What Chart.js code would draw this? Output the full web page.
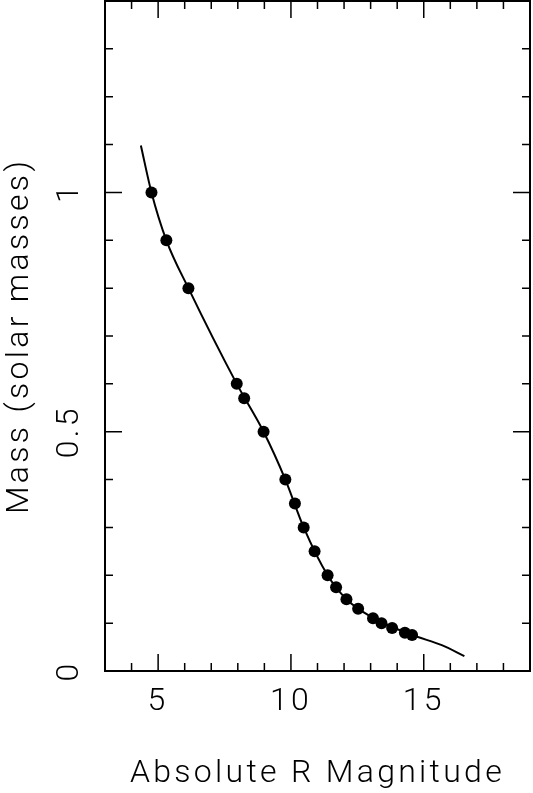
<!DOCTYPE html>
<html>
<head>
<meta charset="utf-8">
<script src="https://cdn.jsdelivr.net/npm/chart.js@4.4.1/dist/chart.umd.min.js"></script>
<style>
  html, body { margin: 0; padding: 0; background: #fff; }
  #chart { display: block; }
</style>
</head>
<body>
<canvas id="chart" width="533" height="793"></canvas>
<script>
// measured stars: absolute R magnitude and mass
const magR = [4.75, 5.31, 6.14, 7.96, 8.24, 8.97, 9.79, 10.15, 10.48, 10.89,
              11.38, 11.70, 12.09, 12.53, 13.09, 13.41, 13.81, 14.29, 14.56];
const mass = [1.0, 0.9, 0.8, 0.6, 0.57, 0.5, 0.4, 0.35, 0.3, 0.25,
              0.2, 0.175, 0.15, 0.13, 0.11, 0.10, 0.09, 0.08, 0.075];

// relation curve
const curveMag  = [4.35, 4.75, 5.31, 6.14, 7.96, 8.97, 9.79, 10.48, 11.38, 12.09, 13.09, 14.29, 14.75, 15.68, 16.53];
const curveMass = [1.098, 1.0, 0.9, 0.8, 0.6, 0.5, 0.4, 0.3, 0.2, 0.15, 0.111, 0.081, 0.0716, 0.054, 0.031];

// labelled (major) ticks
const xLabels = [5, 10, 15];
const yLabels = [0, 0.5, 1];

const FONT = 'Roboto';
const SPACING = '3.3px';
const near = (v, list) => list.find(l => Math.abs(l - v) < 1e-6);

// wider letter spacing, closer to the plotter font of the original
const spacing = {
  id: 'spacing',
  beforeLayout(chart) { chart.ctx.letterSpacing = SPACING; },
  beforeDraw(chart) { chart.ctx.letterSpacing = SPACING; }
};

// frame + inward ticks on all four sides
const frameTicks = {
  id: 'frameTicks',
  afterDatasetsDraw(chart) {
    const {ctx, chartArea: a, scales: {x, y}} = chart;
    ctx.save();
    ctx.strokeStyle = '#000';
    ctx.lineWidth = 1.5;
    ctx.beginPath();
    x.ticks.forEach(t => {
      const px = x.getPixelForValue(t.value);
      if (px <= a.left + 1 || px >= a.right - 1) return;
      const len = near(t.value, xLabels) !== undefined ? 17 : 8;
      ctx.moveTo(px, a.bottom); ctx.lineTo(px, a.bottom - len);
      ctx.moveTo(px, a.top); ctx.lineTo(px, a.top + len);
    });
    y.ticks.forEach(t => {
      const py = y.getPixelForValue(t.value);
      if (py <= a.top + 1 || py >= a.bottom - 1) return;
      const len = near(t.value, yLabels) !== undefined ? 17 : 8;
      ctx.moveTo(a.left, py); ctx.lineTo(a.left + len, py);
      ctx.moveTo(a.right, py); ctx.lineTo(a.right - len, py);
    });
    ctx.stroke();
    ctx.lineWidth = 2;
    ctx.strokeRect(a.left, a.top, a.right - a.left, a.bottom - a.top);
    ctx.restore();
  }
};

function noPad(s) {
  s.paddingLeft = s.paddingRight = s.paddingTop = s.paddingBottom = 0;
}

new Chart(document.getElementById('chart'), {
  type: 'scatter',
  data: {
    datasets: [{
      data: curveMag.map((m, i) => ({x: m, y: curveMass[i]})),
      showLine: true,
      borderColor: '#000',
      borderWidth: 2,
      pointRadius: 0,
      cubicInterpolationMode: 'monotone'
    }, {
      data: magR.map((m, i) => ({x: m, y: mass[i]})),
      pointRadius: 6,
      backgroundColor: '#000',
      borderWidth: 0
    }]
  },
  options: {
    responsive: false,
    animation: false,
    layout: { autoPadding: false, padding: { top: 1, right: 3, left: 0, bottom: 0 } },
    plugins: { legend: { display: false }, tooltip: { enabled: false } },
    scales: {
      x: {
        type: 'linear', min: 3, max: 19,
        grid: { display: false, drawTicks: false },
        border: { display: false },
        ticks: {
          stepSize: 1, autoSkip: false, maxRotation: 0, padding: 12,
          color: '#000', font: { family: FONT, size: 32, weight: 300 },
          callback: v => { const l = near(v, xLabels); return l === undefined ? '' : String(l); }
        },
        title: {
          display: true, text: 'Absolute R Magnitude', color: '#000',
          font: { family: FONT, size: 32, weight: 300 },
          padding: { top: 0, bottom: 0 }
        },
        afterFit(s) { s.height = 122; noPad(s); }
      },
      y: {
        type: 'linear', min: 0, max: 1.4,
        grid: { display: false, drawTicks: false },
        border: { display: false },
        ticks: {
          stepSize: 0.1, autoSkip: false, minRotation: 90, maxRotation: 90,
          crossAlign: 'center', padding: 8,
          color: '#000', font: { family: FONT, size: 32, weight: 300 },
          callback: v => { const l = near(v, yLabels); return l === undefined ? '' : String(l); }
        },
        title: {
          display: true, text: 'Mass (solar masses)', color: '#000',
          font: { family: FONT, size: 32, weight: 300 },
          padding: { top: 1, bottom: 0 }
        },
        afterFit(s) { s.width = 105; noPad(s); }
      }
    }
  },
  plugins: [spacing, frameTicks]
});
</script>
</body>
</html>
